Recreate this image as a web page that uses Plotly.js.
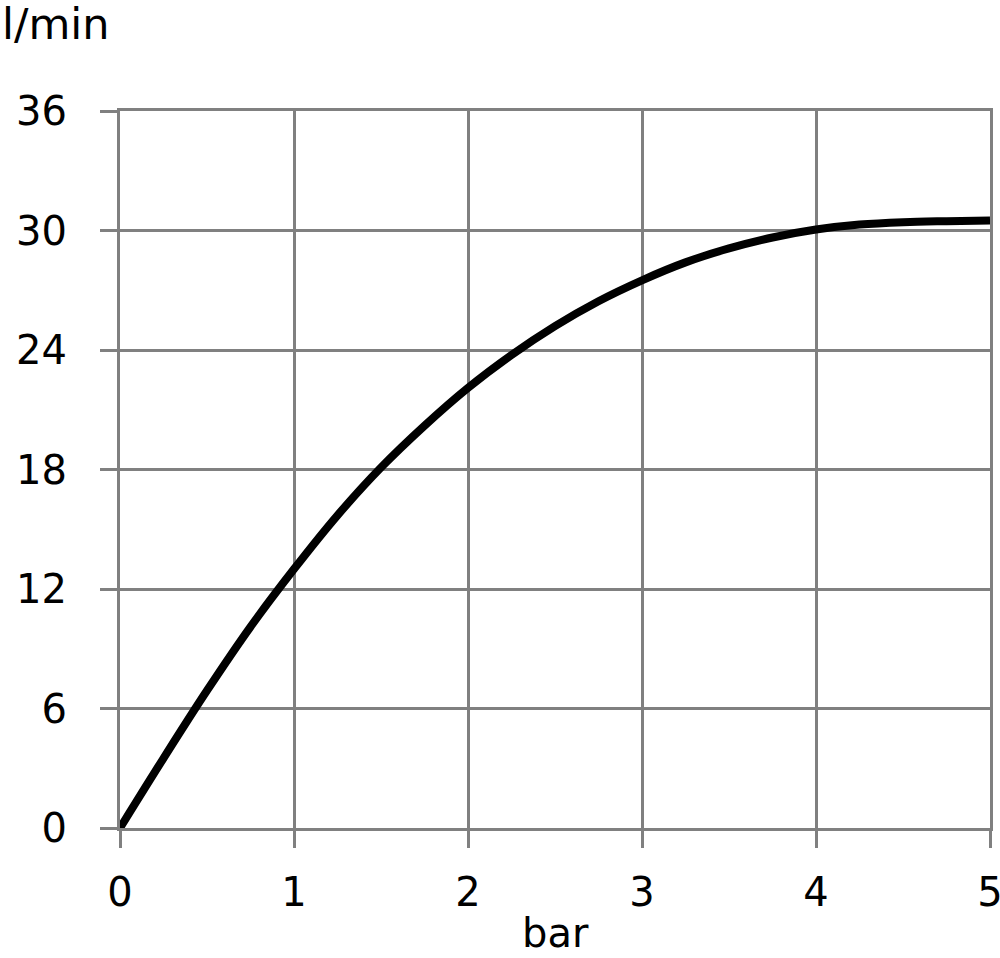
<!DOCTYPE html>
<html>
<head>
<meta charset="utf-8">
<script src="https://cdn.plot.ly/plotly-3.0.1.min.js"></script>
<style>html,body{margin:0;padding:0;background:#fff;}#chart{width:1000px;height:958px;}</style>
</head>
<body>
<div id="chart"></div>
<script>
const pressureBar = [0, 0.25, 0.5, 0.75, 1, 1.25, 1.5, 1.75, 2, 2.25, 2.5, 2.75, 3, 3.25, 3.5, 3.75, 4, 4.25, 4.5, 4.75, 5];
const flowLpm = [0, 3.5, 6.9, 10.1, 13.0, 15.7, 18.1, 20.2, 22.1, 23.75, 25.2, 26.45, 27.5, 28.4, 29.1, 29.65, 30.05, 30.3, 30.42, 30.47, 30.5];
const xTicks = [0, 1, 2, 3, 4, 5];
const yTicks = [0, 6, 12, 18, 24, 30, 36];
const xLabel = 'bar';
const yLabel = 'l/min';

const gridColor = '#808080';
const fontFam = 'DejaVu Sans, sans-serif';

const trace = {
  x: pressureBar,
  y: flowLpm,
  type: 'scatter',
  mode: 'lines',
  line: {color: '#000000', width: 8, shape: 'spline', smoothing: 1},
  hoverinfo: 'skip'
};

const axisCommon = {
  showgrid: true,
  gridcolor: gridColor,
  gridwidth: 3,
  zeroline: false,
  showline: true,
  linecolor: gridColor,
  linewidth: 3,
  mirror: true,
  ticks: 'outside',
  ticklen: 17,
  tickwidth: 3,
  tickcolor: gridColor,
  tickfont: {family: fontFam, size: 40, color: '#000'},
  ticklabeloverflow: 'allow',
  fixedrange: true
};

const layout = {
  width: 1000,
  height: 958,
  margin: {l: 120, r: 10, t: 111, b: 130},
  paper_bgcolor: '#fff',
  plot_bgcolor: '#fff',
  showlegend: false,
  xaxis: Object.assign({}, axisCommon, {
    range: [0, 5],
    tickmode: 'array',
    tickvals: xTicks,
    ticktext: xTicks.map(String),
    ticklabelstandoff: 10
  }),
  yaxis: Object.assign({}, axisCommon, {
    range: [0, 36],
    tickmode: 'array',
    tickvals: yTicks,
    ticktext: yTicks.map(String),
    ticklabelstandoff: 25
  }),
  annotations: [
    {text: yLabel, xref: 'paper', yref: 'paper', x: 0, y: 1, xanchor: 'left', yanchor: 'bottom',
     xshift: -120, yshift: 60, showarrow: false, font: {family: fontFam, size: 43, color: '#000'}},
    {text: xLabel, xref: 'paper', yref: 'paper', x: 0.5, y: 0, xanchor: 'center', yanchor: 'top',
     yshift: -80, showarrow: false, font: {family: fontFam, size: 40, color: '#000'}}
  ]
};

Plotly.newPlot('chart', [trace], layout, {displayModeBar: false, staticPlot: true});
</script>
</body>
</html>
